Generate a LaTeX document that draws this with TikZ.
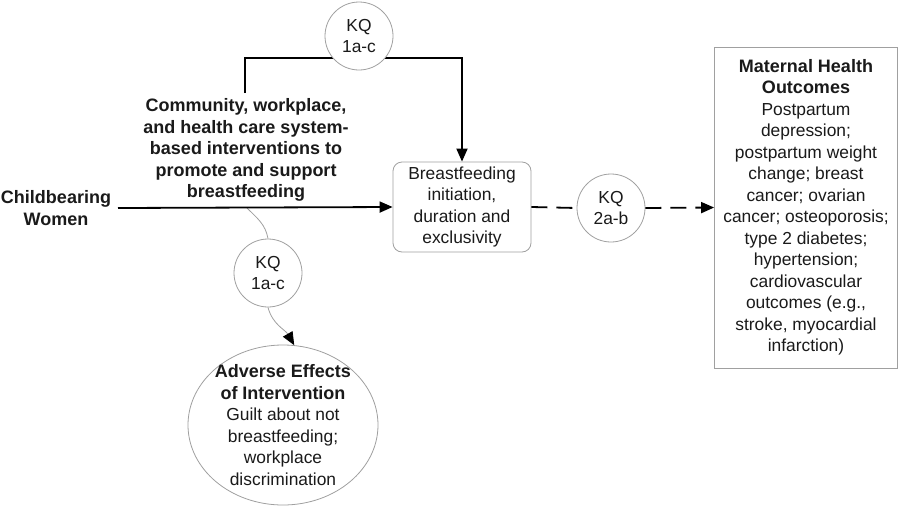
\documentclass[tikz,border=0pt]{standalone}
\usepackage{fontspec}
\setmainfont{Liberation Sans}
\usetikzlibrary{arrows.meta,shapes.geometric,backgrounds}
\definecolor{txt}{HTML}{1A1A1A}
\definecolor{edge}{HTML}{A0A0A0}
\tikzset{
  x=1pt,y=-1pt,
  every node/.style={text=txt,inner sep=0pt,align=center},
  reg/.style={font=\fontsize{17.4}{21.5}\selectfont},
  bld/.style={font=\fontsize{18}{21.5}\selectfont\bfseries},
  kq/.style={circle,draw=edge,line width=0.8pt,fill=white,minimum size=68pt,font=\fontsize{17.4}{20.5}\selectfont},
  main/.style={line width=1.8pt,draw=black},
  thin/.style={line width=0.8pt,draw=edge},
  tip/.style={-{Triangle[length=13pt,width=11pt,black]}},
  dashline/.style={main,dash pattern=on 16pt off 9pt},
}
\begin{document}
\begin{tikzpicture}
\useasboundingbox (0,0) rectangle (900,520);

\node[kq] (kqtop) at (359,36) {KQ\\1a-c};
\node[bld] (interv) at (246,150) {Community, workplace,\\and health care system-\\based interventions to\\promote and support\\breastfeeding};
\node[bld] (women) at (56,208) {Childbearing\\Women};
\node[reg,draw=edge,line width=0.8pt,rounded corners=9pt,minimum width=138pt,minimum height=90pt] (bf) at (462,207) {Breastfeeding\\initiation,\\duration and\\exclusivity};
\node[kq] (kq2) at (611,208) {KQ\\2a-b};
\node[draw=edge,line width=0.8pt,minimum width=183pt,minimum height=321pt] (outc) at (806,207.5) {};
\node[reg] (outtxt) at (806,207.5) {{\fontsize{18}{21.5}\selectfont\bfseries Maternal Health}\\{\fontsize{18}{21.5}\selectfont\bfseries Outcomes}\\Postpartum\\depression;\\postpartum weight\\change; breast\\cancer; ovarian\\cancer; osteoporosis;\\type 2 diabetes;\\hypertension;\\cardiovascular\\outcomes (e.g.,\\stroke, myocardial\\infarction)};
\node[kq] (kq1) at (268,273) {KQ\\1a-c};
\node[ellipse,draw=edge,line width=0.8pt,minimum width=190pt,minimum height=160pt] (adv) at (283,425) {};
\node[reg] (advtxt) at (283,425) {{\fontsize{18}{21.5}\selectfont\bfseries Adverse Effects}\\{\fontsize{18}{21.5}\selectfont\bfseries of Intervention}\\Guilt about not\\breastfeeding;\\workplace\\discrimination};

\coordinate (itop) at (245,93);
\coordinate (tr) at (462,58);
\coordinate (wstart) at (118,208);
\coordinate (split) at (247,208);

\begin{scope}[on background layer]
\fill[white] (0,0) rectangle (900,520);
\draw[main,tip] (itop) |- (tr) -- (bf.north);
\draw[thin] (split) to[out=-45,in=100] (kq1.north);
\end{scope}
\draw[main,tip] (wstart) -- (bf.west);
\draw[dashline] (bf.east) -- (kq2.west);
\draw[dashline,tip] (kq2.east) -- (outc.west);
\draw[thin,tip] (kq1.south) to[out=-75,in=120] (adv.82);
\end{tikzpicture}
\end{document}
